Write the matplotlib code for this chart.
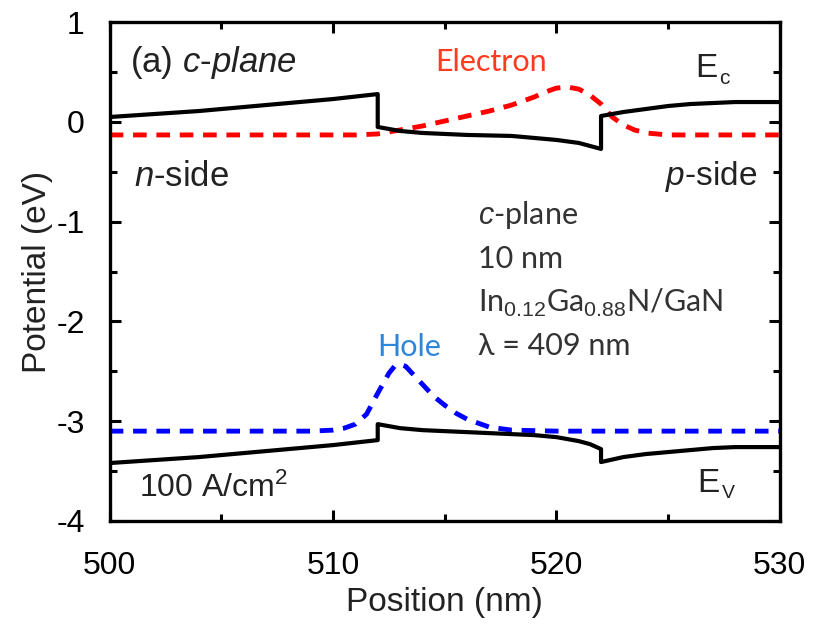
import numpy as np
import matplotlib.pyplot as plt
from matplotlib.ticker import MultipleLocator

# Band-edge and carrier-density profiles (position in nm, potential in eV)
ec_x = [500, 502, 504, 506, 508, 510, 512, 512, 513, 514, 516, 518, 520, 521, 522,
        522, 523, 524, 525, 526, 527, 528, 530]
ec_y = [0.05, 0.08, 0.11, 0.15, 0.19, 0.23, 0.28, -0.05, -0.09, -0.11, -0.13, -0.14,
        -0.18, -0.21, -0.27, 0.06, 0.10, 0.13, 0.16, 0.18, 0.19, 0.20, 0.20]

ev_x = [500, 502, 504, 506, 508, 510, 512, 512, 513, 514, 516, 518, 519, 520, 521,
        521.5, 522, 522, 523, 524, 525, 526, 527, 528, 530]
ev_y = [-3.42, -3.39, -3.36, -3.32, -3.28, -3.24, -3.19, -3.03, -3.07, -3.09, -3.11,
        -3.13, -3.14, -3.16, -3.20, -3.23, -3.28, -3.41, -3.36, -3.33, -3.31, -3.29,
        -3.27, -3.26, -3.26]

elec_x = [500, 505, 510, 511, 512, 513, 514, 515, 516, 517, 518, 519, 519.5, 520,
          520.5, 521, 521.5, 522, 522.5, 523, 523.5, 524, 525, 526, 530]
elec_y = [-0.13, -0.13, -0.13, -0.13, -0.12, -0.08, -0.04, 0.01, 0.06, 0.11, 0.17,
          0.25, 0.30, 0.34, 0.35, 0.33, 0.27, 0.18, 0.05, -0.03, -0.08, -0.11, -0.13,
          -0.13, -0.13]

hole_x = [500, 505, 509, 510, 510.5, 511, 511.5, 512, 512.5, 512.75, 513, 513.25,
          513.5, 514, 514.5, 515, 515.5, 516, 517, 518, 520, 525, 530]
hole_y = [-3.10, -3.10, -3.10, -3.09, -3.07, -3.03, -2.93, -2.72, -2.52, -2.45, -2.43,
          -2.45, -2.51, -2.63, -2.75, -2.84, -2.92, -2.98, -3.06, -3.09, -3.10, -3.10,
          -3.10]

info_lines = ['$c$-plane', '10 nm', 'In$_{0.12}$Ga$_{0.88}$N/GaN', 'λ = 409 nm']

plt.rcParams['font.family'] = ['Liberation Sans', 'DejaVu Sans']
plt.rcParams['axes.unicode_minus'] = False
plt.rcParams['mathtext.fontset'] = 'custom'
plt.rcParams['mathtext.it'] = 'Liberation Sans:italic'
plt.rcParams['mathtext.rm'] = 'Liberation Sans'

fig = plt.figure(figsize=(8.19, 6.36), dpi=100)
ax = fig.add_axes([0.134, 0.181, 0.818, 0.784])

ax.plot(elec_x, elec_y, color='#ff0000', lw=3.5, dashes=(2.8, 2.0))
ax.plot(hole_x, hole_y, color='#0000ff', lw=3.5, dashes=(2.8, 2.0))
ax.plot(ec_x, ec_y, color='black', lw=3)
ax.plot(ev_x, ev_y, color='black', lw=3)

ax.set_xlim(500, 530)
ax.set_ylim(-4, 1)
ax.xaxis.set_major_locator(MultipleLocator(10))
ax.xaxis.set_minor_locator(MultipleLocator(5))
ax.yaxis.set_major_locator(MultipleLocator(1))
ax.yaxis.set_minor_locator(MultipleLocator(0.5))
ax.tick_params(which='both', direction='in', top=True, right=True, width=2.2,
               labelsize=23, colors='black')
ax.tick_params(axis='x', which='both', pad=22)
ax.tick_params(axis='y', which='both', pad=18)
ax.tick_params(which='major', length=8)
ax.tick_params(which='minor', length=5)
for sp in ax.spines.values():
    sp.set_linewidth(2.4)

ax.set_xlabel('Position (nm)', fontsize=24, color='#222222', labelpad=4)
ax.set_ylabel('Potential (eV)', fontsize=24, color='#222222', labelpad=2)

txt = '#222222'
ax.text(500.9, 0.6, '(a) $c$-$plane$', fontsize=25, color=txt, va='center')
ax.text(517.06, 0.6, 'Electron', fontsize=22, color='#ff3b1f', va='center',
        ha='center', family='Lato')
ax.text(526.2, 0.54, 'E', fontsize=24, color=txt, va='center')
ax.text(527.3, 0.44, 'c', fontsize=15, color=txt, va='center')
ax.text(501.1, -0.55, '$n$-side', fontsize=25, color=txt, va='center')
ax.text(524.85, -0.55, '$p$-side', fontsize=24, color=txt, va='center')
ax.text(513.4, -2.26, 'Hole', fontsize=22, color='#2f86d6', va='center',
        ha='center', family='Lato')
ax.text(501.3, -3.67, '100 A/cm$^2$', fontsize=23, color=txt, va='center')
ax.text(526.3, -3.63, 'E', fontsize=24, color=txt, va='center')
ax.text(527.4, -3.73, 'V', fontsize=14, color=txt, va='center')

for i, line in enumerate(info_lines):
    ax.text(516.5, -0.93 - 0.44 * i, line, fontsize=22, color='#333333',
            va='center', family='Lato')

fig.savefig('out.png', dpi=100)
